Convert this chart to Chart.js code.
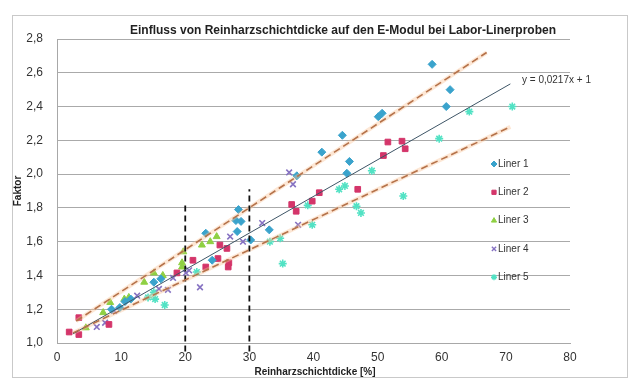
<!DOCTYPE html>
<html>
<head>
<meta charset="utf-8">
<script src="https://cdn.jsdelivr.net/npm/chart.js@4.4.0/dist/chart.umd.min.js"></script>
<style>
  html, body { margin: 0; padding: 0; background: #fff; }
  #wrap { position: relative; width: 640px; height: 390px; }
</style>
</head>
<body>
<div id="wrap"><canvas id="chart" width="640" height="390"></canvas></div>
<script>
// values: [Reinharzschichtdicke %, Faktor]
var liner1 = [[8.5,1.20],[9.8,1.21],[10.6,1.245],[11.5,1.26],[15.1,1.36],[16.2,1.38],[23.2,1.65],[24.2,1.49],
  [27.9,1.725],[28.1,1.66],[28.3,1.79],[28.7,1.72],[30.2,1.61],[33.1,1.67],[37.4,1.99],[41.3,2.13],[45.2,2.005],
  [45.6,2.075],[44.5,2.23],[50.1,2.34],[50.7,2.36],[58.5,2.65],[60.7,2.40],[61.3,2.50]];
var liner2 = [[1.9,1.065],[3.4,1.05],[3.4,1.15],[8.1,1.11],[18.7,1.415],[21.2,1.49],[23.2,1.45],[25.1,1.50],
  [25.4,1.58],[26.5,1.56],[26.8,1.475],[26.7,1.45],[36.6,1.82],[37.3,1.78],[39.8,1.84],[40.9,1.89],[46.9,1.91],
  [50.9,2.11],[51.6,2.19],[53.8,2.195],[54.3,2.15]];
var liner3 = [[4.5,1.09],[7.2,1.18],[8.3,1.24],[10.5,1.26],[11.2,1.27],[13.6,1.36],[15.1,1.415],[16.5,1.40],
  [19.5,1.475],[19.5,1.45],[19.7,1.54],[22.6,1.58],[23.9,1.60],[24.9,1.63]];
var liner4 = [[6.2,1.095],[7.5,1.12],[8.9,1.19],[12.5,1.28],[15.9,1.32],[17.3,1.315],[18.1,1.385],[20.1,1.415],
  [20.6,1.43],[22.3,1.33],[27.0,1.63],[29.0,1.60],[32.0,1.71],[36.2,2.01],[36.8,1.94],[37.6,1.70]];
var liner5 = [[14.2,1.27],[15.3,1.26],[16.8,1.225],[15.1,1.30],[21.8,1.42],[33.2,1.60],[34.8,1.62],[35.2,1.47],
  [39.1,1.815],[39.8,1.70],[44.0,1.91],[44.9,1.93],[46.7,1.81],[47.4,1.77],[49.1,2.02],[54.0,1.87],[59.6,2.21],
  [64.3,2.37],[71.0,2.40]];

var seriesNames = ['Liner 1', 'Liner 2', 'Liner 3', 'Liner 4', 'Liner 5'];
var seriesColors = ['#3aa3cc', '#d4356a', '#8fd043', '#8672c2', '#52e2c4'];
var seriesStyles = ['rectRot', 'rect', 'triangle', 'crossRot', 'star'];

// trendline y = 0,0217x + 1 and the two dashed bounds
var slope = 0.0217, intercept = 1;
var trendX = [2.5, 70.7];
var upperLine = [[3, 1.13], [67, 2.72]];
var lowerLine = [[2.5, 1.06], [70.7, 2.28]];
var mark20 = [[20, 0.95], [20, 1.82]];
var mark30 = [[30, 0.95], [30, 1.91]];

var xTicks = [0, 10, 20, 30, 40, 50, 60, 70, 80];

var FONT = '"Liberation Sans", Arial, sans-serif';

function pts(arr) {
  return arr.map(function(p) { return {x: p[0], y: p[1]}; });
}

var datasets = [];
var allSeries = [liner1, liner2, liner3, liner4, liner5];
for (var i = 0; i < allSeries.length; i++) {
  datasets.push({
    label: seriesNames[i],
    data: pts(allSeries[i]),
    pointStyle: seriesStyles[i],
    backgroundColor: seriesColors[i],
    borderColor: seriesColors[i],
    borderWidth: (i >= 3 ? 1.6 : 1),
    pointRadius: 4,
    showLine: false,
    order: 2
  });
}

function boundSet(arr) {
  return [
    { data: pts(arr), showLine: true, borderColor: 'rgba(250,195,150,0.4)', borderWidth: 4,
      pointRadius: 0, fill: false, order: 1 },
    { data: pts(arr), showLine: true, borderColor: '#b5724a', borderWidth: 1.6, borderDash: [7, 4],
      pointRadius: 0, fill: false, order: 0 }
  ];
}
datasets = datasets.concat(boundSet(upperLine), boundSet(lowerLine));

datasets.push({
  data: trendX.map(function(x) { return {x: x, y: slope * x + intercept}; }),
  showLine: true, borderColor: '#3e5566', borderWidth: 1, pointRadius: 0, order: 0
});
[mark20, mark30].forEach(function(m) {
  datasets.push({
    data: pts(m), showLine: true, borderColor: '#111', borderWidth: 1.8, borderDash: [6, 4],
    pointRadius: 0, clip: false, order: 0
  });
});

var frame = {
  id: 'frame',
  beforeDraw: function(chart) {
    var ctx = chart.ctx;
    ctx.save();
    ctx.strokeStyle = '#c9c9c9';
    ctx.lineWidth = 1;
    ctx.strokeRect(12.5, 15.5, 615, 362);
    ctx.restore();
  }
};

var texts = {
  id: 'texts',
  afterDraw: function(chart) {
    var ctx = chart.ctx;
    ctx.save();
    ctx.fillStyle = '#222';
    ctx.textAlign = 'center';
    ctx.textBaseline = 'middle';
    ctx.font = 'bold 12px ' + FONT;
    ctx.fillText('Einfluss von Reinharzschichtdicke auf den E-Modul bei Labor-Linerproben', 343, 31);
    ctx.font = 'bold 10px ' + FONT;
    ctx.fillText('Reinharzschichtdicke [%]', 315, 372);
    ctx.translate(18, 191);
    ctx.rotate(-Math.PI / 2);
    ctx.fillText('Faktor', 0, 0);
    ctx.restore();

    ctx.save();
    ctx.fillStyle = '#333';
    ctx.textAlign = 'left';
    ctx.textBaseline = 'middle';
    ctx.font = '10px ' + FONT;
    ctx.fillText('y = 0,0217x + 1', 522, 80);
    ctx.restore();

    // legend inside the plot, right side
    for (var i = 0; i < seriesNames.length; i++) {
      var y = 164 + i * 28.3;
      ctx.save();
      ctx.fillStyle = seriesColors[i];
      ctx.strokeStyle = seriesColors[i];
      ctx.lineWidth = (i >= 3 ? 1.4 : 1);
      Chart.helpers.drawPoint(ctx, {
        pointStyle: seriesStyles[i], radius: 3, rotation: 0, borderWidth: ctx.lineWidth
      }, 494, y);
      ctx.fillStyle = '#333';
      ctx.font = '10px ' + FONT;
      ctx.textAlign = 'left';
      ctx.textBaseline = 'middle';
      ctx.fillText(seriesNames[i], 498, y);
      ctx.restore();
    }
  }
};

new Chart(document.getElementById('chart'), {
  type: 'scatter',
  data: { datasets: datasets },
  options: {
    responsive: false,
    animation: false,
    layout: { padding: { top: 39, right: 70, left: 0, bottom: 0 } },
    plugins: { legend: { display: false }, tooltip: { enabled: false } },
    scales: {
      x: {
        type: 'linear', min: 0, max: 80,
        afterFit: function(s) { s.height = 47; },
        afterBuildTicks: function(s) { s.ticks = xTicks.map(function(v) { return {value: v}; }); },
        grid: { display: false, drawTicks: false },
        border: { display: true, color: '#a8a8a8' },
        ticks: { padding: 7, color: '#333', font: { family: FONT, size: 12 } }
      },
      y: {
        type: 'linear', min: 1.0, max: 2.8,
        afterFit: function(s) { s.width = 57; },
        grid: { color: '#aaaaaa', lineWidth: 1, drawTicks: false },
        border: { display: true, color: '#a8a8a8' },
        ticks: {
          stepSize: 0.2, padding: 14, color: '#333',
          font: { family: FONT, size: 12 },
          callback: function(v) { return v.toFixed(1).replace('.', ','); }
        }
      }
    }
  },
  plugins: [frame, texts]
});
</script>
</body>
</html>
